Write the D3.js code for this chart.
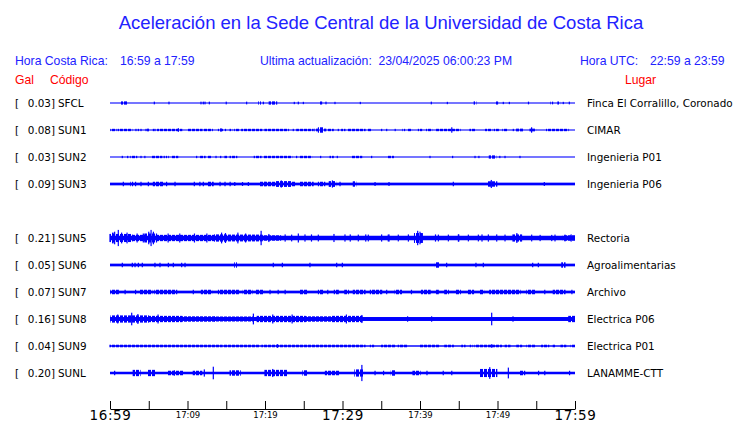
<!DOCTYPE html>
<html><head><meta charset="utf-8">
<script src="https://cdn.jsdelivr.net/npm/d3@7"></script>
<style>body{margin:0;background:#fff}svg{display:block}</style>
</head><body>
<script>
// ---------- DATA ----------
const codes  = ["SFCL","SUN1","SUN2","SUN3","SUN5","SUN6","SUN7","SUN8","SUN9","SUNL"];
const slots  = [0,1,2,3,5,6,7,8,9,10];
const pga    = [0.03,0.08,0.03,0.09,0.21,0.05,0.07,0.16,0.04,0.20];
const places = ["Finca El Corralillo, Coronado","CIMAR","Ingenieria P01","Ingenieria P06","Rectoria","Agroalimentarias","Archivo","Electrica P06","Electrica P01","LANAMME-CTT"];
const baseAmp = [0.6,0.6,0.6,1.5,2.5,1.5,1.5,2.2,0.8,1.4];
const tickMinutes = [0,5,10,15,20,25,30,35,40,45,50,55,60];
const tickLabels  = ["16:59","","17:09","","17:19","","17:29","","17:39","","17:49","","17:59"];
const majorLabels = ["16:59","17:29","17:59"];

// bursts / spikes: [startMinute, endMinute, halfAmplitude]
const sfclBursts = [[1.5,2.2,1.8],[5.72,5.72,1.5],[7.61,7.61,1.5],[11.74,11.74,1.5],[12.04,12.04,1.5],[12.26,12.26,1.5],[12.82,12.82,1.5],[15.0,15.0,1.5],[17.63,17.63,1.5],[19.2,19.4,1.8],[19.79,19.79,1.5],[20.55,21.5,1.8],[23.78,23.78,1.3],[24.3,24.3,1.5],[24.95,24.95,1.3],[27.1,27.3,1.7],[27.87,27.87,1.5],[29.03,29.03,1.3],[32.3,32.3,1.3],[41.46,41.46,1.5],[43.53,43.53,1.3],[47.0,47.2,1.8],[49.8,50.0,1.7],[50.75,50.75,1.3],[51.53,51.53,1.3],[54.0,54.0,1.5],[56.9,57.1,1.5],[57.8,58.0,1.7],[58.49,58.49,1.3],[59.27,59.27,1.5]];
const sun1Bursts = [[0.13,0.77,1.3],[1.07,1.59,1.3],[1.85,2.8,1.3],[3.35,3.35,1.3],[3.66,3.66,1.3],[4.0,4.0,1.3],[4.65,4.65,1.3],[4.86,4.95,1.5],[5.6,5.6,1.3],[5.8,5.8,1.3],[6.15,9.25,1.3],[8.82,8.82,2],[10.02,11.83,1.3],[12.04,13.2,1.3],[14.0,14.6,1.3],[14.32,14.32,2],[14.9,14.9,1.3],[15.5,15.7,1.3],[16.1,16.56,1.3],[17.0,19.57,1.3],[20.0,23.0,1.3],[23.65,23.65,1.3],[24.1,24.3,1.3],[24.6,26.2,1.3],[26.45,27.83,1.5],[26.9,27.5,3],[28.2,28.8,1.3],[29.46,29.46,1.3],[29.9,30.3,1.3],[30.67,32.9,1.3],[33.3,33.6,1.3],[35.05,35.05,1.3],[35.7,35.7,1.3],[36.8,36.8,1.3],[37.8,38.0,1.3],[38.5,38.9,1.3],[39.8,40.2,1.3],[40.86,41.5,1.3],[42.15,45.16,1.3],[44.1,44.1,3],[46.45,47.1,1.3],[48.47,49.25,1.3],[49.6,50.1,1.3],[50.7,51.2,1.3],[52.04,52.04,1.3],[52.47,53.33,1.5],[54.2,54.9,1.5],[54.4,54.4,3],[56.34,59.1,1.3]];
const sun2Bursts = [[1.59,1.59,1.3],[2.28,2.28,1.3],[2.7,3.44,1.3],[4.0,4.0,1.3],[4.5,4.5,1.3],[5.5,6.67,1.3],[7.0,7.0,1.3],[7.3,7.5,1.3],[7.96,8.73,1.3],[11.18,11.18,1.3],[11.7,12.26,1.3],[12.69,13.03,1.3],[13.68,13.68,1.3],[14.28,14.28,1.3],[14.84,15.05,1.3],[15.5,16.35,1.3],[18.62,19.48,1.3],[19.9,23.44,1.3],[24.08,24.08,1.3],[24.5,26.0,1.3],[27.18,27.18,1.3],[28.4,28.8,1.3],[29.33,29.33,1.3],[31.18,32.47,1.3],[33.76,33.76,1.3],[35.9,36.56,1.3],[41.29,41.29,1.3],[44.21,44.21,1.3],[47.1,47.1,1.3],[47.6,47.6,1.3],[48.95,49.76,1.8],[50.3,50.3,1.3],[50.97,50.97,1.3],[52.9,52.9,1.3]];
const sun3Bursts = [[1.72,1.72,2.5],[2.7,2.9,2.5],[3.3,3.3,2.5],[4.0,4.0,2.5],[4.95,4.95,2.5],[5.6,6.9,2.5],[7.3,7.3,2.5],[8.39,8.39,2.5],[10.88,10.88,2.5],[11.6,11.6,2.5],[12.04,12.04,2.5],[12.6,13.3,2.5],[14.2,14.2,2.5],[14.84,14.84,2.5],[15.5,15.5,2.5],[16.1,16.1,2.2],[17.1,17.1,2.2],[17.85,17.85,2.2],[19.36,20.0,2.5],[20.0,23.9,2.5],[21.5,23.4,3.2],[22.1,22.1,4],[24.5,26.2,2.5],[26.9,27.7,2.5],[28.3,29.1,3.2],[28.7,28.7,4],[29.68,29.68,2.5],[31.4,31.7,3],[34.2,34.2,2.2],[36.0,36.0,2.2],[44.3,44.3,2.5],[48.8,49.9,3],[49.2,49.2,4.5],[56.04,56.04,2.2]];
const sun5Bursts = [[0,2.8,4.5],[2.8,4.5,3.5],[4.5,5.8,5],[5.8,13.5,3.5],[13.5,14.8,4],[14.8,19.6,3.8],[19.6,22,3],[39.3,40.3,5.5],[52.0,53.1,4],[58.5,60,3],[0.2,0.4,6],[0.6,0.6,7],[1.07,1.07,9],[1.5,1.5,6],[2.2,2.2,6],[3.5,3.5,5],[4.3,4.3,5],[5.0,5.0,7],[5.3,5.3,9],[5.6,5.6,7],[6.0,6.0,5],[7.5,7.5,5],[9.0,9.0,5],[10.9,10.9,5],[12.5,12.5,5],[14.4,14.4,6],[14.9,14.9,5.5],[16.5,16.5,6],[17.5,17.5,5],[19.5,19.5,8],[20.5,20.5,4.5],[22.6,22.6,4],[23.44,23.44,3.8],[24.3,24.3,5],[25.16,25.16,4],[26,26,4],[26.88,26.88,3.8],[28.9,28.9,4.5],[30.32,30.32,4],[31,31,4],[32.04,32.04,3.8],[33,33,4],[33.33,33.33,3.8],[35.05,35.05,4],[35.9,35.9,3.8],[36,36,4],[37.2,37.2,3.8],[38.5,38.5,4],[39.7,39.7,8],[40,40,7],[42,42,4],[42.37,42.37,3.8],[43.66,43.66,3.8],[44.95,44.95,4],[45,45,4],[46.24,46.24,3.8],[47.53,47.53,3.8],[48,48,4],[48.82,48.82,4],[49.9,49.9,4],[50.97,50.97,3.8],[52.5,52.5,5.5],[54.41,54.41,3.8],[55.5,55.5,3.5],[57,57,3.5],[57.42,57.42,3.8],[58.71,58.71,3.8],[59.5,59.5,4]];
const sun6Bursts = [[1.59,1.59,2.5],[2.88,2.88,2.5],[3.23,3.23,2.5],[3.66,3.66,2.5],[4.17,4.17,2.5],[5.8,5.8,2.5],[6.45,6.45,2.5],[7.53,7.53,2.5],[8.17,8.17,2.5],[9.25,9.25,2.5],[9.68,9.68,2.5],[16.1,16.3,3],[21.07,21.07,2.5],[22.24,22.24,2.5],[25.8,25.8,2.5],[29.25,29.25,2.5],[29.98,29.98,2.5],[42.0,42.5,3],[43.44,43.44,2.5],[47.22,47.22,2.5],[48.17,48.17,2.5],[54.54,54.54,2.5],[55.27,55.27,2.5],[58.3,58.7,3]];
const sun7Bursts = [[0.13,1.07,2.5],[1.95,1.95,2.5],[3.3,3.3,2.5],[3.87,5.38,2.5],[5.8,8.6,2.5],[10.75,10.75,2.5],[11.8,13.1,2.5],[14.0,16.56,2.5],[17.2,18.3,2.5],[18.9,19.8,2.5],[20.65,20.65,2.5],[21.7,21.7,2.5],[22.6,22.6,2.5],[24.5,25.4,2.5],[26.9,27.5,2.5],[28.1,28.1,2.5],[28.95,29.45,2.5],[30.3,30.75,2.5],[31.4,32.9,2.5],[33.6,35.05,2.5],[35.7,35.7,2.5],[36.8,37.6,2.5],[38.9,38.9,2.5],[40.2,41.3,2.5],[42.15,42.35,2.5],[43.2,43.65,2.5],[44.7,45.2,2.5],[46.2,46.9,2.5],[47.7,48.2,2.5],[49.0,52.9,2.5],[53.8,54.85,2.5],[56.1,56.1,2.5],[57.2,58.7,2.5],[59.6,59.6,2.5]];
const sun8Bursts = [[0.13,4.95,4],[2.8,2.8,7],[1.0,1.0,5],[3.6,3.6,5.5],[4.95,9.25,3.5],[6.2,6.2,5],[9.25,13.5,3],[13.5,18.5,2.8],[18.5,18.5,6],[19.0,25.2,3.5],[21.0,21.0,5],[23.5,23.5,5],[25.2,28.6,3],[28.6,32.5,3.5],[30.5,30.5,5],[32.5,32.5,4.5],[38.4,38.4,3],[41.5,41.5,3],[49.25,49.25,7],[52.0,52.0,3],[59.2,60,3.5]];
const sun9Bursts = [[0,9.9,1.4],[10.1,14.4,1.4],[14.6,19.3,1.4],[19.6,29.5,1.4],[21.6,21.6,2],[29.7,32.9,1.4],[33.6,34.0,1.4],[35.05,36.8,1.4],[37.2,38.3,1.4],[40.0,42.4,1.4],[43.2,44.3,1.4],[45.4,45.8,1.4],[46.5,46.7,1.4],[47.1,50.5,1.4],[49.25,49.25,2],[51.0,51.6,1.4],[52.5,53.1,1.4],[53.8,54.85,1.4],[55.7,56.6,1.4],[57.2,57.4,1.4],[58.2,58.8,1.4],[59.5,60,1.4]];
const sunlBursts = [[0.6,0.6,2.5],[3.0,3.87,3.5],[4.95,5.8,3.5],[7.5,9.46,2.5],[8.3,8.3,3],[10.75,11.83,2.5],[12.17,12.17,4],[13.33,13.33,7],[15.5,16.8,3],[20.0,22.8,3.5],[21.0,21.0,4.5],[24.9,25.4,3],[27.8,29.5,2.5],[31.6,32.7,4],[32.5,32.5,9],[34.2,34.2,2.5],[35.3,35.3,2.5],[36.3,36.8,3],[39.1,40.0,2.5],[40.9,40.9,2.5],[43.0,43.0,2.5],[44.1,44.1,2.5],[47.7,49.9,4.5],[49.0,49.0,6.5],[51.4,51.4,6],[52.9,53.5,2.5],[55.3,55.3,2.5],[56.1,56.1,2.5],[59.3,59.3,2.5]];
const bursts = [sfclBursts,sun1Bursts,sun2Bursts,sun3Bursts,sun5Bursts,sun6Bursts,sun7Bursts,sun8Bursts,sun9Bursts,sunlBursts];

// ---------- CHART ----------
const W = 740, H = 423;
const svg = d3.select("body").append("svg").attr("width", W).attr("height", H);
const blue = "#0000ff", textBlue = "#2222ff", red = "#ff0000";
const sans = "'Liberation Sans', Arial, sans-serif";
const dj = "'DejaVu Sans', sans-serif";

// striped fill for bursts (dense seismogram ticks)
const defs = svg.append("defs");
const pat = defs.append("pattern").attr("id","ticks").attr("patternUnits","userSpaceOnUse")
  .attr("x",0).attr("y",0).attr("width",4).attr("height",4);
pat.append("rect").attr("x",0).attr("y",0).attr("width",3).attr("height",4).attr("fill",blue);

const x = d3.scaleLinear().domain([0,60]).range([110,575]);
const row = d3.scalePoint().domain(d3.range(11)).range([103,373]);
const amp = d3.scaleLinear().domain([0,10]).range([0,9]);

// headers
svg.append("text").attr("x",381).attr("y",29).attr("text-anchor","middle")
  .attr("font-family",sans).attr("font-size",18.5).attr("fill",textBlue)
  .text("Aceleración en la Sede Central de la Universidad de Costa Rica");
const hdr = [[15,"Hora Costa Rica:"],[120,"16:59 a 17:59"],[260,"Ultima actualización:  23/04/2025 06:00:23 PM"],[580,"Hora UTC:"],[650,"22:59 a 23:59"]];
svg.selectAll("text.hdr").data(hdr).join("text").attr("class","hdr")
  .attr("x",d=>d[0]).attr("y",65).attr("font-family",sans).attr("font-size",12.2)
  .attr("fill",textBlue).attr("xml:space","preserve").text(d=>d[1]);
const hdr2 = [[15,"Gal"],[50,"Código"],[625,"Lugar"]];
svg.selectAll("text.hdr2").data(hdr2).join("text").attr("class","hdr2")
  .attr("x",d=>d[0]).attr("y",84).attr("font-family",sans).attr("font-size",12.2)
  .attr("fill",red).text(d=>d[1]);

// rows
codes.forEach((c,i)=>{
  const cy = row(slots[i]);
  const g = svg.append("g");
  const fs = 10.4;
  g.append("text").attr("x",15).attr("y",cy+4).attr("font-family",dj).attr("font-size",fs).text("[");
  g.append("text").attr("x",55).attr("y",cy+4).attr("text-anchor","end").attr("font-family",dj).attr("font-size",fs).text(pga[i].toFixed(2)+"]");
  g.append("text").attr("x",58).attr("y",cy+4).attr("font-family",dj).attr("font-size",fs).text(c);
  g.append("text").attr("x",587).attr("y",cy+4).attr("font-family",dj).attr("font-size",fs).text(places[i]);
  const b = baseAmp[i];
  g.selectAll("rect.ev").data(bursts[i]).join("rect").attr("class","ev")
    .attr("x",d=>x(d[0])-0.6).attr("width",d=>Math.max(x(d[1])-x(d[0])+1.2,1.2))
    .attr("y",d=>cy-amp(d[2])).attr("height",d=>2*amp(d[2]))
    .attr("fill",d=>(d[1]-d[0])>0.15 ? "url(#ticks)" : blue);
  g.append("rect").attr("x",x(0)).attr("width",x(60)-x(0))
    .attr("y",cy-amp(b)).attr("height",2*amp(b)).attr("fill",blue);
});

// axis
const axis = d3.axisBottom(x).tickValues(tickMinutes).tickSize(-8).tickSizeOuter(0)
  .tickPadding(4).tickFormat((d,i)=>tickLabels[i]);
const ag = svg.append("g").attr("transform","translate(0,409)").call(axis);
ag.select(".domain").attr("stroke","#000");
ag.selectAll(".tick line").attr("stroke","#000");
ag.selectAll(".tick text").attr("fill","#000").attr("font-family",dj)
  .attr("font-size",function(){return majorLabels.includes(this.textContent)?13.5:8.5;})
  .attr("letter-spacing",function(){return majorLabels.includes(this.textContent)?"0.6px":"0";})
  .attr("dy",function(){return majorLabels.includes(this.textContent)?"0.5em":"0.6em";});
</script>
</body></html>
